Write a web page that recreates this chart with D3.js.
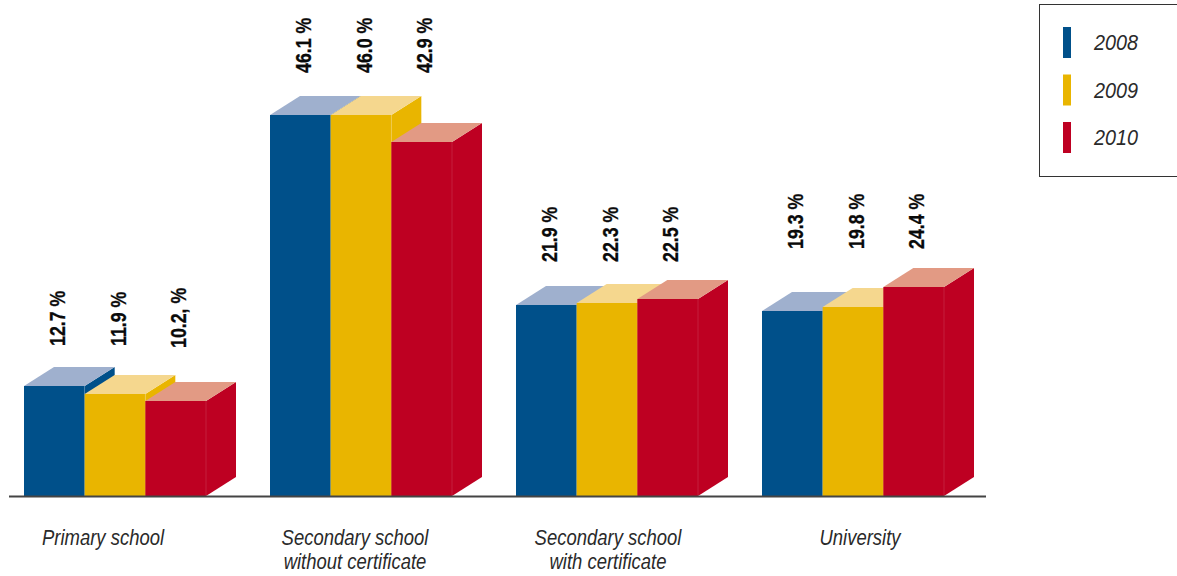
<!DOCTYPE html>
<html>
<head>
<meta charset="utf-8">
<script src="https://cdn.jsdelivr.net/npm/d3@7"></script>
<style>
  body { margin: 0; background: #fff; }
  svg { display: block; }
  .val { font-family: "Liberation Sans", sans-serif; font-weight: bold; font-size: 22.5px; fill: #0a0a0a; stroke: #0a0a0a; stroke-width: 0.3px; }
  .cat { font-family: "Liberation Sans", sans-serif; font-style: italic; font-size: 22px; fill: #2a2a2a; }
  .leg { font-family: "Liberation Sans", sans-serif; font-style: italic; font-size: 22px; fill: #2a2a2a; }
</style>
</head>
<body>
<svg width="1177" height="576"></svg>
<script>
// data
const categories = ["Primary school", "Secondary school without certificate", "Secondary school with certificate", "University"];
const years = ["2008", "2009", "2010"];
const values2008 = [12.7, 46.1, 21.9, 19.3];
const values2009 = [11.9, 46.0, 22.3, 19.8];
const values2010 = [10.2, 42.9, 22.5, 24.4];
// the third label really has a stray comma in the original
const labels2008 = ["12.7 %", "46.1 %", "21.9 %", "19.3 %"];
const labels2009 = ["11.9 %", "46.0 %", "22.3 %", "19.8 %"];
const labels2010 = ["10.2, %", "42.9 %", "22.5 %", "24.4 %"];
const categoryLines = [["Primary school"], ["Secondary school", "without certificate"], ["Secondary school", "with certificate"], ["University"]];

const frontColors = ["#00508a", "#e9b500", "#be0022"];
const topColors = ["#9fb0ce", "#f5d78e", "#e29a84"];

const series = [values2008, values2009, values2010];
const labels = [labels2008, labels2009, labels2010];

const baseY = 496;
const depthX = 30;
const depthY = 19;

const svg = d3.select("svg");

// the original bars are not drawn in proportion to their labels,
// so the scale is piecewise, fitted to the drawn bar heights
const yScale = d3.scaleLinear()
  .domain([0, 10.2, 11.9, 12.7, 19.3, 19.8, 21.9, 22.3, 22.5, 24.4, 42.9, 46.0, 46.1])
  .range([0, 95, 102, 110, 185, 189, 191, 193, 197, 209, 354, 381, 381].map(h => baseY - h));

const groupScale = d3.scaleBand()
  .domain(categories)
  .range([24, 944])
  .paddingInner(64 / 246)
  .paddingOuter(0);

const barScale = d3.scaleBand()
  .domain(years)
  .range([0, groupScale.bandwidth()]);

const w = barScale.bandwidth();

categories.forEach(function(cat, c) {
  let g = svg.append("g").attr("transform", "translate(" + groupScale(cat) + ",0)");

  years.forEach(function(year, s) {
    let x0 = barScale(year);
    let x1 = x0 + w;
    let top = yScale(series[s][c]);

    // side
    g.append("path")
      .attr("d", "M" + x1 + "," + top + "L" + (x1 + depthX) + "," + (top - depthY) +
        "L" + (x1 + depthX) + "," + (baseY - depthY) + "L" + x1 + "," + baseY + "Z")
      .attr("fill", frontColors[s]);
    // top
    g.append("path")
      .attr("d", "M" + x0 + "," + top + "L" + (x0 + depthX) + "," + (top - depthY) +
        "L" + (x1 + depthX) + "," + (top - depthY) + "L" + x1 + "," + top + "Z")
      .attr("fill", topColors[s]);
    // front
    g.append("rect")
      .attr("x", x0)
      .attr("y", top)
      .attr("width", w)
      .attr("height", baseY - top)
      .attr("fill", frontColors[s]);
    // faint edge between front and side
    g.append("line")
      .attr("x1", x1).attr("x2", x1)
      .attr("y1", top).attr("y2", baseY)
      .attr("stroke", "#fff")
      .attr("stroke-opacity", 0.12);
  });

  // value labels sit a little above the tallest bar of the group
  let tallest = d3.min(series, v => yScale(v[c]));
  let labelGap = [21, 23, 18, 19][c];
  years.forEach(function(year, s) {
    let lx = barScale(year) + w / 2 + 11 - s * 0.5;
    let ly = tallest - depthY - labelGap + (labels[s][c].indexOf(",") > 0 ? 2 : 0);
    g.append("text")
      .attr("class", "val")
      .attr("transform", "translate(" + lx + "," + ly + ") rotate(-90) scale(0.79,1)")
      .text(labels[s][c]);
  });

  // category name, squeezed since no narrow italic is installed
  let cx = groupScale.bandwidth() / 2 + [-12, -6, 1, 7][c];
  categoryLines[c].forEach(function(line, i) {
    g.append("text")
      .attr("class", "cat")
      .attr("transform", "translate(" + cx + "," + (545 + i * 23.5) + ") scale(0.84,1)")
      .attr("text-anchor", "middle")
      .text(line);
  });
});

// base line
svg.append("line")
  .attr("x1", 9).attr("x2", 986)
  .attr("y1", baseY + 0.5).attr("y2", baseY + 0.5)
  .attr("stroke", "#444")
  .attr("stroke-width", 2);

// legend, open on the right where the image ends
svg.append("rect")
  .attr("x", 1039.5).attr("y", 4.5)
  .attr("width", 160).attr("height", 172)
  .attr("fill", "none")
  .attr("stroke", "#333")
  .attr("stroke-width", 1);

let legendScale = d3.scalePoint().domain(years).range([27, 122]);

years.forEach(function(year, s) {
  svg.append("rect")
    .attr("x", 1063)
    .attr("y", legendScale(year))
    .attr("width", 8)
    .attr("height", 31)
    .attr("fill", frontColors[s]);
  svg.append("text")
    .attr("class", "leg")
    .attr("transform", "translate(1094," + (legendScale(year) + 23) + ") scale(0.9,1)")
    .text(year);
});
</script>
</body>
</html>
